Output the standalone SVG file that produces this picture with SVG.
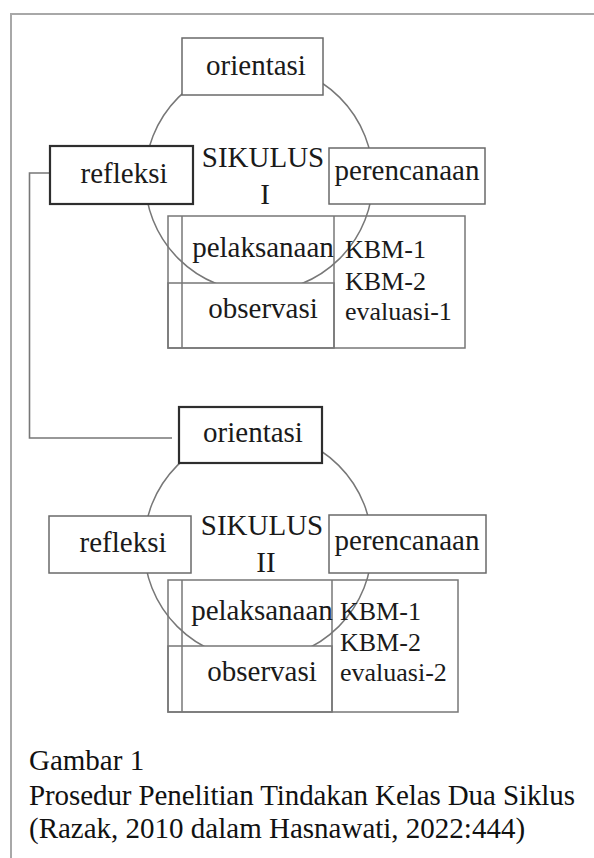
<svg xmlns="http://www.w3.org/2000/svg" width="594" height="858" viewBox="0 0 594 858" font-family="'Liberation Serif', 'DejaVu Serif', serif">
<style>
text{font-family:"Liberation Serif","DejaVu Serif",serif;fill:#1a1a1a}
.lbl{font-size:29px;text-anchor:middle}
.sm{font-size:26px}
.cap{font-size:29px;fill:#111}
.box{fill:#fff;stroke:#6a6a6a;stroke-width:1.5}
.boxb{fill:#fff;stroke:#2e2e2e;stroke-width:2.2}
.ring{fill:none;stroke:#777;stroke-width:1.5}
.tl{fill:none;stroke:#777;stroke-width:1.5}
.cell{fill:#fff;stroke:#777;stroke-width:1.5}
.conn{fill:none;stroke:#777;stroke-width:1.6}
</style>
<rect width="594" height="858" fill="#fff"/>
<path d="M11 858 V14 H594" fill="none" stroke="#a8a8a8" stroke-width="2"/>

<g id="connectors">
<path class="conn" d="M50 173 H29.5 V438 H172"/>
</g>

<g id="siklus1">
<circle class="ring" cx="259" cy="178" r="114"/>
<g id="orientasi1"><rect class="box" x="182" y="38" width="141" height="57"/><text class="lbl" x="256" y="75">orientasi</text></g>
<g id="refleksi1"><rect class="boxb" x="50" y="146" width="143" height="58"/><text class="lbl" x="124" y="183">refleksi</text></g>
<g id="perencanaan1"><rect class="box" x="329" y="148" width="156" height="56"/><text class="lbl" x="407" y="180">perencanaan</text></g>
<g id="label1"><text class="lbl" x="263" y="167">SIKULUS</text><text class="lbl" x="265" y="204">I</text></g>
<g id="tabel1">
<rect class="cell" x="168" y="283" width="166" height="65"/>
<rect class="tl" x="168" y="216" width="297" height="132"/>
<line class="tl" x1="182" y1="216" x2="182" y2="348"/>
<line class="tl" x1="334" y1="216" x2="334" y2="348"/>
<g id="pelaksanaan1"><text class="lbl" x="263" y="257">pelaksanaan</text></g>
<g id="observasi1"><text class="lbl" x="263" y="318">observasi</text></g>
<g id="kbm1"><text class="sm" x="345" y="258">KBM-1</text><text class="sm" x="345" y="290">KBM-2</text><text class="sm" x="345" y="320">evaluasi-1</text></g>
</g>
</g>

<g id="siklus2">
<circle class="ring" cx="258" cy="546" r="114"/>
<g id="orientasi2"><rect class="boxb" x="179" y="407" width="143" height="56"/><text class="lbl" x="253" y="442">orientasi</text></g>
<g id="refleksi2"><rect class="box" x="49" y="516" width="142" height="57"/><text class="lbl" x="123" y="552">refleksi</text></g>
<g id="perencanaan2"><rect class="box" x="329" y="515" width="157" height="58"/><text class="lbl" x="407" y="550">perencanaan</text></g>
<g id="label2"><text class="lbl" x="262" y="535">SIKULUS</text><text class="lbl" x="266" y="572">II</text></g>
<g id="tabel2">
<rect class="cell" x="168" y="646" width="164" height="66"/>
<rect class="tl" x="168" y="580" width="290" height="132"/>
<line class="tl" x1="182" y1="580" x2="182" y2="712"/>
<line class="tl" x1="332" y1="580" x2="332" y2="712"/>
<g id="pelaksanaan2"><text class="lbl" x="262" y="620">pelaksanaan</text></g>
<g id="observasi2"><text class="lbl" x="262" y="681">observasi</text></g>
<g id="kbm2"><text class="sm" x="340" y="620">KBM-1</text><text class="sm" x="340" y="651">KBM-2</text><text class="sm" x="340" y="681">evaluasi-2</text></g>
</g>
</g>

<g id="caption">
<text class="cap" x="29" y="770">Gambar 1</text>
<text class="cap" x="29" y="805" textLength="546" lengthAdjust="spacing">Prosedur Penelitian Tindakan Kelas Dua Siklus</text>
<text class="cap" x="29" y="838">(Razak, 2010 dalam Hasnawati, 2022:444)</text>
</g>
</svg>
